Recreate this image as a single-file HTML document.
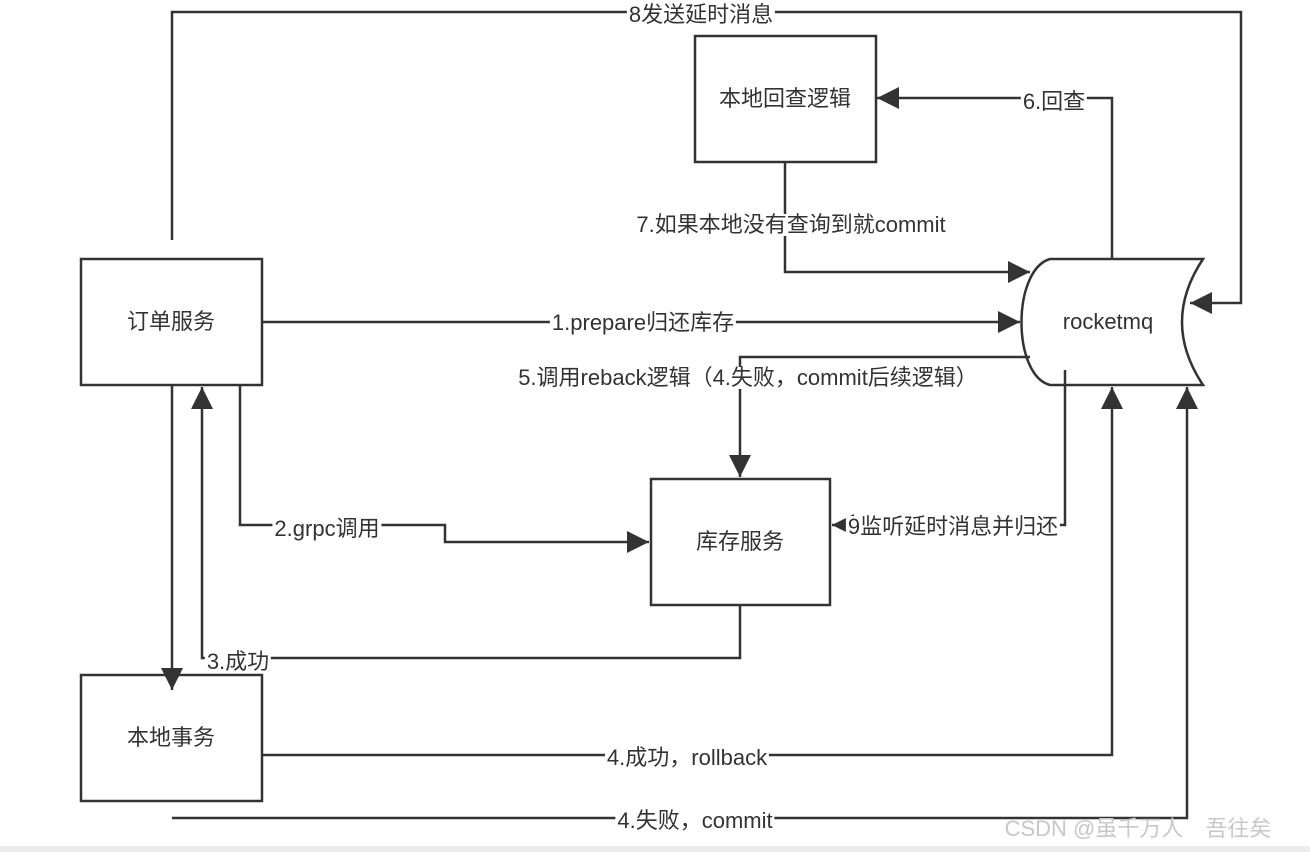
<!DOCTYPE html>
<html><head><meta charset="utf-8"><style>
html,body{margin:0;padding:0;background:#fff;width:1310px;height:852px;overflow:hidden;position:relative}
svg{position:absolute;left:0;top:0}
.t{position:absolute;font-family:"Liberation Sans","Noto Sans CJK SC",sans-serif;font-size:22px;color:#333;line-height:22px;white-space:nowrap;transform:translate(-50%,-50%)}
.l{background:#fff;padding:0 2px}
</style></head><body>
<svg width="1310" height="852" xmlns="http://www.w3.org/2000/svg">
<defs><marker id="a" viewBox="0 0 10 10" refX="10" refY="5" markerWidth="22" markerHeight="22" markerUnits="userSpaceOnUse" orient="auto"><path d="M0,0 L10,5 L0,10 z" fill="#333"/></marker></defs>
<rect x="0" y="846" width="1310" height="6" fill="#ececec"/>
<g fill="none" stroke="#333" stroke-width="2.5">
<rect x="695" y="36" width="181" height="126"/>
<rect x="81" y="259" width="181" height="126"/>
<rect x="651" y="479" width="179" height="126"/>
<rect x="81" y="675" width="181" height="126"/>
<path d="M1050,259 L1203,259 Q1161,322 1203,385 L1050,385 C1012,375 1012,270 1050,259 Z" fill="#fff"/>
<polyline points="172,240 172,12 1241,12 1241,303 1190,303" marker-end="url(#a)"/>
<polyline points="1112,259 1112,98 877,98" marker-end="url(#a)"/>
<polyline points="785,162 785,272 1030,272" marker-end="url(#a)"/>
<polyline points="262,322 1020,322" marker-end="url(#a)"/>
<polyline points="1030,357 740,357 740,477" marker-end="url(#a)"/>
<polyline points="1065,370 1065,525 832,525" marker-end="url(#a)"/>
<polyline points="240,385 240,525 445,525 445,542 649,542" marker-end="url(#a)"/>
<polyline points="172,385 172,690" marker-end="url(#a)"/>
<polyline points="740,605 740,658 202,658 202,387" marker-end="url(#a)"/>
<polyline points="262,755 1112,755 1112,387" marker-end="url(#a)"/>
<polyline points="172,818 1187,818 1187,387" marker-end="url(#a)"/>
</g>
</svg>
<div class="t" style="left:785px;top:99px">本地回查逻辑</div>
<div class="t" style="left:171px;top:322px">订单服务</div>
<div class="t" style="left:740px;top:542px">库存服务</div>
<div class="t" style="left:171px;top:738px">本地事务</div>
<div class="t" style="left:1108px;top:322px">rocketmq</div>
<div class="t l" style="left:701px;top:15px">8发送延时消息</div>
<div class="t l" style="left:1054px;top:102px">6.回查</div>
<div class="t l" style="left:791px;top:225px">7.如果本地没有查询到就commit</div>
<div class="t l" style="left:643px;top:323px">1.prepare归还库存</div>
<div class="t l" style="left:748px;top:378px">5.调用reback逻辑（4.失败，commit后续逻辑）</div>
<div class="t l" style="left:953px;top:527px">9监听延时消息并归还</div>
<div class="t l" style="left:327px;top:529px">2.grpc调用</div>
<div class="t l" style="left:238px;top:662px">3.成功</div>
<div class="t l" style="left:687px;top:758px">4.成功，rollback</div>
<div class="t l" style="left:695px;top:821px">4.失败，commit</div>
<div class="t" style="left:1138px;top:829px;color:#c8c8c8">CSDN @虽千万人　吾往矣</div>
</body></html>
